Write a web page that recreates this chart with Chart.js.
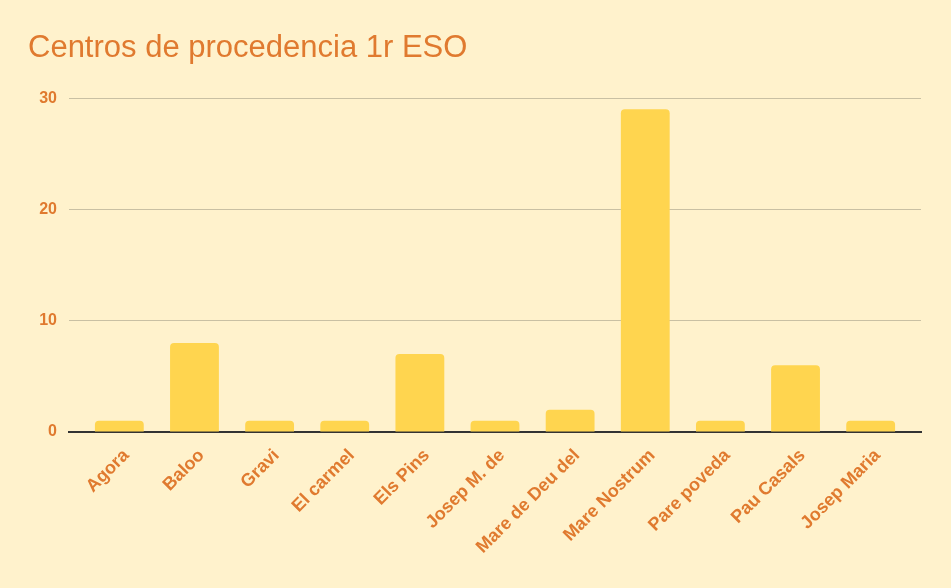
<!DOCTYPE html>
<html>
<head>
<meta charset="utf-8">
<script src="https://cdn.jsdelivr.net/npm/chart.js@4"></script>
<style>
  html, body { margin: 0; padding: 0; background: #fff2cc; }
  #wrap { width: 951px; height: 588px; }
</style>
</head>
<body>
<div id="wrap"><canvas id="chart" width="951" height="588"></canvas></div>
<script>
// Data
const categories = ['Agora', 'Baloo', 'Gravi', 'El carmel', 'Els Pins', 'Josep M. de',
    'Mare de Deu del', 'Mare Nostrum', 'Pare poveda', 'Pau Casals', 'Josep Maria'];
const counts = [1, 8, 1, 1, 7, 1, 2, 29, 1, 6, 1];
const yTicks = [0, 10, 20, 30];

const ORANGE = '#e07a2f';
const BAR = '#ffd54f';
const FONT = 'Liberation Sans, Arial, sans-serif';
const SIDE_GAP = 0.17; // extra room (in categories) left and right of the bars

const ctx = document.getElementById('chart').getContext('2d');
new Chart(ctx, {
    type: 'bar',
    data: {
        labels: categories,
        datasets: [{
            data: counts,
            backgroundColor: BAR,
            borderRadius: { topLeft: 4, topRight: 4 },
            borderSkipped: 'bottom',
            categoryPercentage: 1,
            barPercentage: 0.65
        }]
    },
    options: {
        responsive: false,
        animation: false,
        layout: { padding: { left: 28, right: 30, top: 0, bottom: 0 } },
        plugins: {
            legend: { display: false },
            tooltip: { enabled: false },
            title: {
                display: true,
                text: 'Centros de procedencia 1r ESO',
                align: 'start',
                color: ORANGE,
                font: { family: FONT, size: 31, weight: 'normal' },
                padding: { top: 30, bottom: 31 }
            }
        },
        scales: {
            x: {
                grid: { display: false },
                border: { color: '#333333', width: 2 },
                ticks: {
                    color: ORANGE,
                    font: { family: FONT, size: 18, weight: 'bold' },
                    minRotation: 45,
                    maxRotation: 45,
                    autoSkip: false,
                    padding: 5,
                    labelOffset: 7
                },
                afterBuildTicks: (s) => {
                    // widen the value range so the bars sit inset from the grid ends
                    s._startValue = -0.5 - SIDE_GAP;
                    s._valueRange = categories.length + 2 * SIDE_GAP;
                },
                afterFit: (s) => { s.height = 156; }
            },
            y: {
                min: 0,
                max: 30,
                afterBuildTicks: (s) => { s.ticks = yTicks.map(v => ({ value: v })); },
                grid: {
                    color: (c) => c.tick && c.tick.value === 0 ? '#333333' : '#c9c0a3',
                    drawTicks: false
                },
                border: { display: false },
                ticks: {
                    color: ORANGE,
                    font: { family: FONT, size: 16, weight: 'bold' },
                    padding: 12
                },
                afterFit: (s) => { s.width = 41; }
            }
        }
    }
});
</script>
</body>
</html>
